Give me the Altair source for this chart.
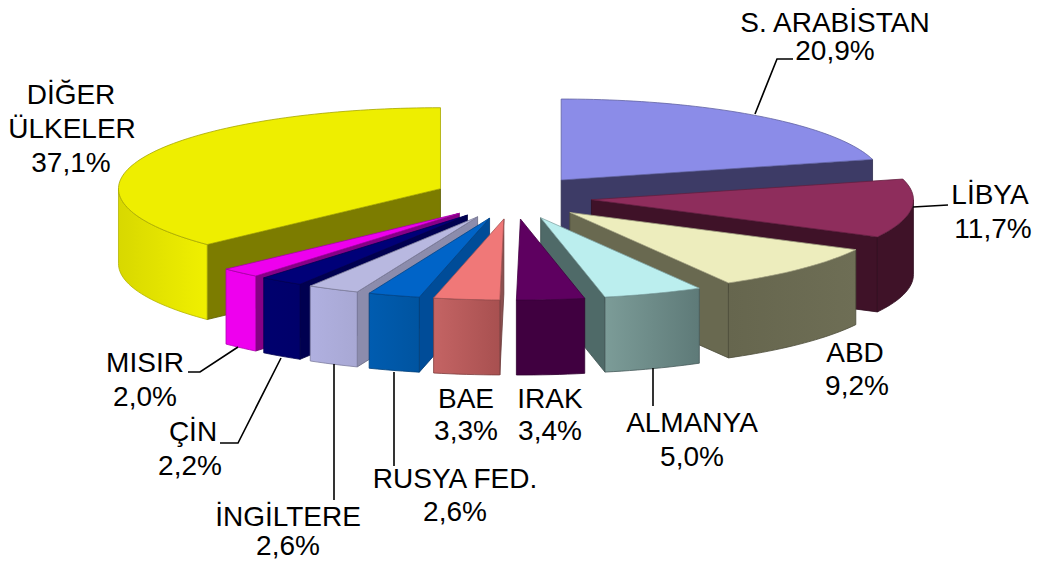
import math
import altair as alt
import pandas as pd

names = ["S. ARABİSTAN", "LİBYA", "ABD", "ALMANYA", "IRAK", "BAE", "RUSYA FED.", "İNGİLTERE", "ÇİN", "MISIR", "DİĞER ÜLKELER"]
shares = [20.9, 11.7, 9.2, 5.0, 3.4, 3.3, 2.6, 2.6, 2.2, 2.0, 37.1]
top_colors = ["#8B8CE8", "#8E2D5C", "#EDEDBD", "#BBEEEE", "#5E0060", "#F07878", "#0064C8", "#B8B8E0", "#000078", "#EE00EE", "#EEEE00"]
side_colors = ["#3D3B66", "#3F1228", "#696950", "#4F6A68", "#400040", "#8C5050", "#004C98", "#8C8CAC", "#000050", "#860086", "#7C7C00"]
rim_left = ["#3D3B66", "#3F1228", "#6E6E55", "#7C9C98", "#400040", "#C46464", "#005CB0", "#B0B0E0", "#00006E", "#EE00EE", "#D8D800"]
rim_right = ["#3D3B66", "#3F1228", "#66664E", "#5E7A78", "#400040", "#A85050", "#0054A0", "#A8A8D4", "#00006A", "#EE00EE", "#F0F000"]
paint_order = [0, 10, 1, 2, 9, 8, 7, 6, 5, 3, 4]

# layout of the exploded pie (orthographic ellipse)
CX, CY, RX, RY, EX, EY, H = 513.0, 197.3, 322.0, 81.0, 78.9, 21.8, 75.0
W, HT = 1024, 553

x_scale = alt.Scale(domain=[8, 8 + W], range=[0, W])
y_scale = alt.Scale(domain=[8, 8 + HT], range=[0, HT])


def polygon(pts, fill, stroke):
    df = pd.DataFrame({"x": [p[0] for p in pts] + [pts[0][0]],
                       "y": [p[1] for p in pts] + [pts[0][1]]})
    df["i"] = range(len(df))
    return alt.Chart(df).mark_line(fill=fill, filled=True, stroke=stroke, strokeWidth=0.8,
                                   interpolate="linear", clip=False).encode(
        x=alt.X("x:Q", scale=x_scale, axis=None),
        y=alt.Y("y:Q", scale=y_scale, axis=None),
        order=alt.Order("i:Q"),
    )


def darken(hexc, f=0.75):
    r, g, b = [int(hexc[i:i + 2], 16) for i in (1, 3, 5)]
    return "#%02x%02x%02x" % (int(r * f), int(g * f), int(b * f))


def rim_pt(ax, ay, a):
    return (ax + RX * math.sin(a), ay - RY * math.cos(a))


layers = []
total = sum(shares)
cum = [0]
for s in shares:
    cum.append(cum[-1] + s)

for k in paint_order:
    a0 = cum[k] / total * 2 * math.pi
    a1 = cum[k + 1] / total * 2 * math.pi
    mid = (a0 + a1) / 2
    ax = CX + EX * math.sin(mid)
    ay = CY - EY * math.cos(mid)
    n = max(4, int((a1 - a0) * 40))
    arc = [a0 + (a1 - a0) * j / n for j in range(n + 1)]
    # radial walls
    for a, sign in ((a0, -1), (a1, 1)):
        ny = math.cos(a + sign * math.pi / 2)  # normal direction: negative faces viewer
        if ny < -1e-3:
            p = rim_pt(ax, ay, a)
            layers.append(polygon([(ax, ay), p, (p[0], p[1] + H), (ax, ay + H)],
                                  side_colors[k], darken(side_colors[k])))
    # outer wall, front part only
    lo, hi = max(a0, math.pi / 2), min(a1, 1.5 * math.pi)
    if hi > lo:
        m = max(3, int((hi - lo) * 40))
        front = [rim_pt(ax, ay, lo + (hi - lo) * j / m) for j in range(m + 1)]
        poly = front + [(p[0], p[1] + H) for p in reversed(front)]
        # walls on the right half run from the outside edge inward
        grad = {"gradient": "linear", "x1": 0, "x2": 1, "y1": 0, "y2": 0,
                "stops": [{"color": rim_right[k] if ax > CX and k != 3 else rim_left[k], "offset": 0},
                          {"color": rim_left[k] if ax > CX and k != 3 else rim_right[k], "offset": 1}]}
        layers.append(polygon(poly, grad, darken(rim_right[k])))
    # top face
    layers.append(polygon([(ax, ay)] + [rim_pt(ax, ay, a) for a in arc], top_colors[k], darken(top_colors[k], 0.7)))

# leader lines
leaders = [
    [(755, 114), (777, 59), (793, 59)],
    [(913, 207), (948, 205)],
    [(653, 368), (653, 406)],
    [(394, 372), (394, 466)],
    [(334, 364), (334, 500)],
    [(281, 358), (238, 443), (220, 443)],
    [(238, 347), (200, 372), (188, 372)],
]
for g, pts in enumerate(leaders):
    df = pd.DataFrame({"x": [p[0] for p in pts], "y": [p[1] for p in pts], "i": range(len(pts))})
    layers.append(alt.Chart(df).mark_line(color="#000000", strokeWidth=1.6).encode(
        x=alt.X("x:Q", scale=x_scale, axis=None),
        y=alt.Y("y:Q", scale=y_scale, axis=None),
        order=alt.Order("i:Q")))

# labels: text, centre x, middle y
label_text = ["S. ARABİSTAN", "20,9%", "LİBYA", "11,7%", "ABD", "9,2%", "ALMANYA", "5,0%", "IRAK", "3,4%", "BAE", "3,3%",
              "RUSYA FED.", "2,6%", "İNGİLTERE", "2,6%", "ÇİN", "2,2%", "MISIR", "2,0%", "DİĞER", "ÜLKELER", "37,1%"]
label_x = [835, 835, 990, 993, 855, 857, 692, 692, 550, 550, 466, 466, 455, 455, 288, 288, 193, 190, 145, 145, 71, 72, 71]
label_y = [23.5, 51.5, 195.5, 229.5, 353.5, 386.5, 423.5, 457.5, 399.5, 431.5, 399.5, 431.5, 479.5, 512.5, 517.5, 547, 432.5, 466.5, 363.5, 397.5, 95.5, 129.5, 163.5]
labels = pd.DataFrame({"t": label_text, "x": label_x, "y": label_y})
layers.append(alt.Chart(labels).mark_text(font="Liberation Sans", fontSize=28, color="#000000", align="center", baseline="middle").encode(
    x=alt.X("x:Q", scale=x_scale, axis=None),
    y=alt.Y("y:Q", scale=y_scale, axis=None),
    text="t:N"))

chart = alt.layer(*layers).properties(width=W, height=HT, padding=0, autosize=alt.AutoSizeParams(type="none")).configure_view(stroke=None)
chart.save("out.html", embed_options={"renderer": "svg", "actions": False})
